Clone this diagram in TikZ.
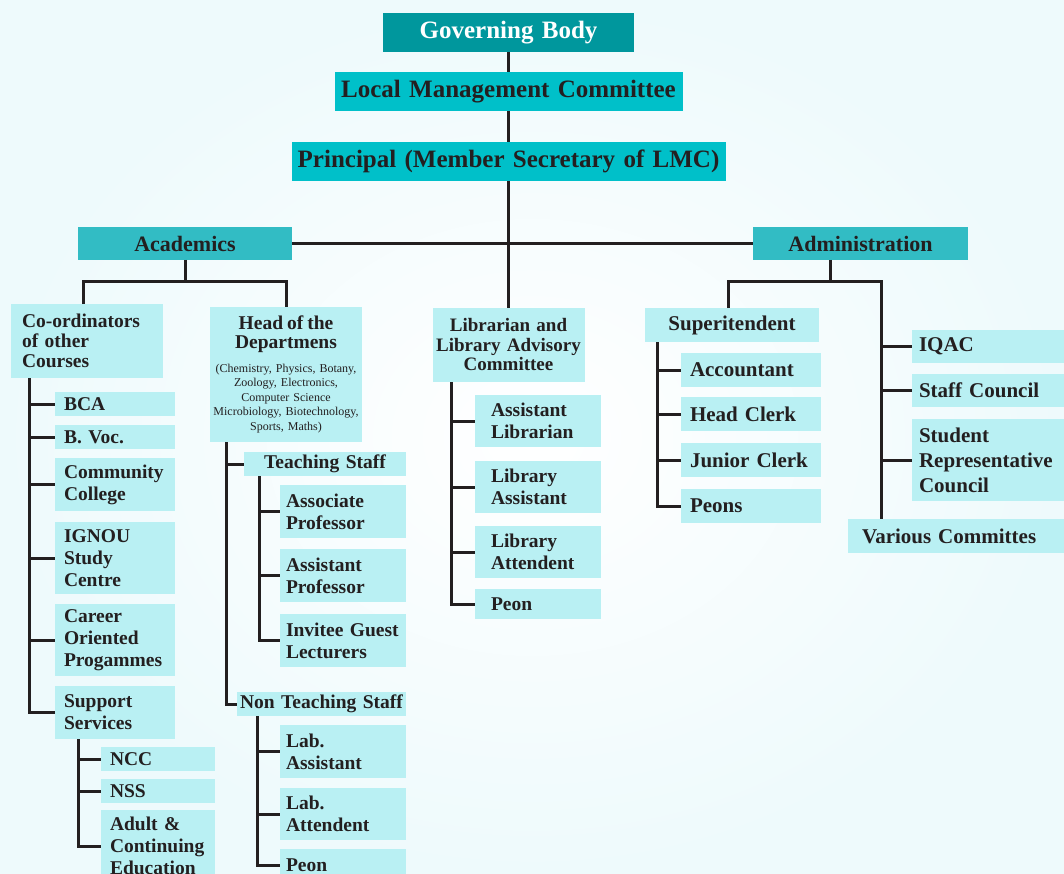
\documentclass[tikz,border=0pt]{standalone}
\usepackage{fontspec}
\setmainfont{Liberation Serif}

\definecolor{govteal}{RGB}{0,151,157}
\definecolor{topteal}{RGB}{0,192,201}
\definecolor{midteal}{RGB}{50,188,196}
\definecolor{lightteal}{RGB}{185,240,243}
\definecolor{bgtint}{RGB}{238,250,252}
\definecolor{inkgray}{RGB}{35,31,32}

\newcommand{\setfs}[2]{\fontsize{#1}{#2}\selectfont}

\tikzset{
  chartbox/.style={rectangle, anchor=north west, inner sep=0pt, outer sep=0pt, text=inkgray},
  govbox/.style={chartbox, fill=govteal, text=white, align=center, font=\bfseries\setfs{25}{28}},
  topbox/.style={chartbox, fill=topteal, align=center, font=\bfseries\setfs{25}{28}},
  midbox/.style={chartbox, fill=midteal, align=center, font=\bfseries\setfs{22}{25}},
  leafbox/.style={chartbox, fill=lightteal, align=left, font=\bfseries\setfs{19.5}{22}},
  courseleaf/.style={leafbox, inner xsep=9pt, text width=102pt},
  supportleaf/.style={leafbox, inner xsep=9pt, text width=96pt},
  staffleaf/.style={leafbox, inner xsep=6pt, text width=114pt},
  libleaf/.style={leafbox, inner xsep=16pt, text width=94pt},
  officeleaf/.style={leafbox, inner xsep=9pt, text width=122pt, font=\bfseries\setfs{21}{25}},
  rightleaf/.style={leafbox, inner xsep=7pt, text width=144pt, font=\bfseries\setfs{21}{25}},
  conn/.style={draw=inkgray, line width=3pt},
}

\begin{document}
\begin{tikzpicture}[x=1pt,y=-1pt]
\clip (0,0) rectangle (1064,874);
\shade[inner color=white, outer color=bgtint] (0,0) rectangle (1064,874);

% top of the chart
\node[govbox, text width=251pt, minimum height=39pt] (gov) at (383,13) {Governing Body};
\node[topbox, text width=348pt, minimum height=39pt] (lmc) at (334.5,72) {Local Management Committee};
\node[topbox, text width=434pt, minimum height=39pt] (prin) at (291.5,142) {Principal (Member Secretary of LMC)};
\node[midbox, text width=214pt, minimum height=33pt] (acad) at (78,227) {Academics};
\node[midbox, text width=215pt, minimum height=33pt] (admin) at (753,227) {Administration};

% academics
\node[leafbox, inner xsep=11pt, text width=130pt, minimum height=74pt, font=\bfseries\setfs{19.5}{20}] (coord) at (11,304) {Co-ordinators\\of other\\Courses};
\node[leafbox, inner xsep=1pt, text width=150pt, minimum height=135pt, align=center, font=\setfs{12}{14.5}] (hod) at (210,307)
  {{\bfseries\setfs{19.5}{19}Head of the\\Departmens\par}\vspace{9pt}
   (Chemistry, Physics, Botany,\\Zoology, Electronics,\\Computer Science\\Microbiology, Biotechnology,\\Sports, Maths)\par};

\node[courseleaf, minimum height=24pt] (bca) at (55,392) {BCA};
\node[courseleaf, minimum height=24pt] (bvoc) at (55,425) {B. Voc.};
\node[courseleaf, minimum height=53pt] (commcol) at (55,458) {Community\\College};
\node[courseleaf, minimum height=72pt] (ignou) at (55,522) {IGNOU\\Study\\Centre};
\node[courseleaf, minimum height=72pt] (career) at (55,604) {Career\\Oriented\\Progammes};
\node[courseleaf, minimum height=53pt] (support) at (55,686) {Support\\Services};

\node[supportleaf, minimum height=24pt] (ncc) at (101,747) {NCC};
\node[supportleaf, minimum height=24pt] (nss) at (101,779) {NSS};
\node[supportleaf, minimum height=72pt] (adult) at (101,810) {Adult \&\\Continuing\\Education};

\node[leafbox, inner xsep=0pt, text width=162pt, minimum height=24pt, align=center] (teach) at (244,452) {Teaching Staff};
\node[staffleaf, minimum height=53pt] (assoc) at (280,485) {Associate\\Professor};
\node[staffleaf, minimum height=53pt] (asstprof) at (280,549) {Assistant\\Professor};
\node[staffleaf, minimum height=53pt] (guest) at (280,614) {Invitee Guest\\Lecturers};
\node[leafbox, inner xsep=2pt, text width=165pt, minimum height=24pt, align=center] (nonteach) at (237,692) {Non Teaching Staff};
\node[staffleaf, minimum height=53pt] (labasst) at (280,725) {Lab.\\Assistant};
\node[staffleaf, minimum height=52pt] (labatt) at (280,788) {Lab.\\Attendent};
\node[staffleaf, minimum height=32pt] (labpeon) at (280,849) {Peon};

% library
\node[leafbox, inner xsep=1pt, text width=150pt, minimum height=74pt, align=center, font=\bfseries\setfs{19}{19.5}] (lib) at (432.5,308) {Librarian and\\Library Advisory\\Committee};
\node[libleaf, minimum height=52pt] (asstlib) at (475,395) {Assistant\\Librarian};
\node[libleaf, minimum height=52pt] (libasst) at (475,461) {Library\\Assistant};
\node[libleaf, minimum height=52pt] (libatt) at (475,526) {Library\\Attendent};
\node[libleaf, minimum height=30pt] (libpeon) at (475,589) {Peon};

% administration
\node[leafbox, inner xsep=0pt, text width=174pt, minimum height=34pt, align=center, font=\bfseries\setfs{21}{25}] (sup) at (645,308) {Superitendent};
\node[officeleaf, minimum height=34pt] (acct) at (681,353) {Accountant};
\node[officeleaf, minimum height=34pt] (hclerk) at (681,397) {Head Clerk};
\node[officeleaf, minimum height=34pt] (jclerk) at (681,443) {Junior Clerk};
\node[officeleaf, minimum height=34pt] (peons) at (681,489) {Peons};

\node[rightleaf, minimum height=33pt] (iqac) at (912,330) {IQAC};
\node[rightleaf, minimum height=33pt] (staffc) at (912,374) {Staff Council};
\node[rightleaf, minimum height=82pt] (studrep) at (912,419) {Student\\Representative\\Council};
\node[rightleaf, inner xsep=14pt, text width=194pt, minimum height=34pt] (various) at (848,519) {Various Committes};

% spine
\draw[conn] (gov) -- (lmc);
\draw[conn] (lmc) -- (prin);
\draw[conn] (prin) -- (lib);
\draw[conn] (acad) -- (admin);

% forks
\coordinate (acadfork) at (185,282);
\coordinate (acadleft) at (83,282);
\draw[conn] (acad) -- (acadfork);
\draw[conn] (acadleft |- coord.north) -- (acadleft) -| (hod.north);

\coordinate (admfork) at (830,282);
\coordinate (admleft) at (728,282);
\coordinate (admright) at (881,282);
\draw[conn] (admin.south -| admfork) -- (admfork);
\draw[conn] (admleft |- sup.north) -- (admleft) -- (admright) -- (admright |- various.north);
\foreach \n in {iqac,staffc,studrep}
  \draw[conn] (admright |- \n.west) -- (\n.west);

% trunks
\coordinate (coordtrunk) at (29,0);
\coordinate (supptrunk) at (78,0);
\coordinate (hodtrunk) at (226,0);
\coordinate (teachtrunk) at (259,0);
\coordinate (ntrunk) at (257,0);
\coordinate (libtrunk) at (451,0);
\coordinate (offtrunk) at (657,0);

\draw[conn] (coordtrunk |- coord.south) |- (support.west);
\foreach \n in {bca,bvoc,commcol,ignou,career}
  \draw[conn] (coordtrunk |- \n.west) -- (\n.west);

\draw[conn] (supptrunk |- support.south) |- (adult.west);
\foreach \n in {ncc,nss}
  \draw[conn] (supptrunk |- \n.west) -- (\n.west);

\draw[conn] (hodtrunk |- hod.south) |- (nonteach.west);
\draw[conn] (hodtrunk |- teach.west) -- (teach.west);

\draw[conn] (teachtrunk |- teach.south) |- (guest.west);
\foreach \n in {assoc,asstprof}
  \draw[conn] (teachtrunk |- \n.west) -- (\n.west);

\draw[conn] (ntrunk |- nonteach.south) |- (labpeon.west);
\foreach \n in {labasst,labatt}
  \draw[conn] (ntrunk |- \n.west) -- (\n.west);

\draw[conn] (libtrunk |- lib.south) |- (libpeon.west);
\foreach \n in {asstlib,libasst,libatt}
  \draw[conn] (libtrunk |- \n.west) -- (\n.west);

\draw[conn] (offtrunk |- sup.south) |- (peons.west);
\foreach \n in {acct,hclerk,jclerk}
  \draw[conn] (offtrunk |- \n.west) -- (\n.west);
\end{tikzpicture}
\end{document}
